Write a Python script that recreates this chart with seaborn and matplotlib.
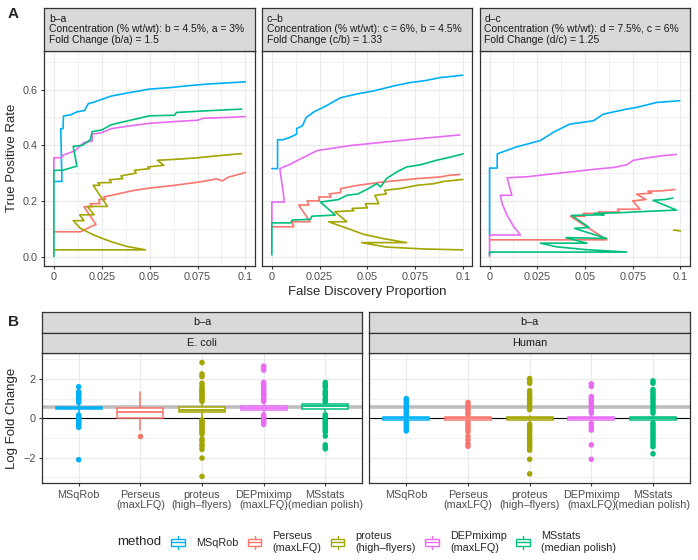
import matplotlib
matplotlib.use('Agg')
import numpy as np
import pandas as pd
import seaborn as sns
import matplotlib.pyplot as plt
from matplotlib.legend_handler import HandlerBase
from matplotlib.patches import Rectangle
from matplotlib.lines import Line2D

# methods and colours
methods = ['MSqRob', 'Perseus\n(maxLFQ)', 'proteus\n(high–flyers)', 'DEPmiximp\n(maxLFQ)', 'MSstats\n(median polish)']
colors = ['#00B0F6', '#F8766D', '#A3A500', '#E76BF3', '#00BF7D']

# panel A strip texts
comparisons = ['b–a', 'c–b', 'd–c']
concentrations = ['Concentration (% wt/wt): b = 4.5%, a = 3%',
                  'Concentration (% wt/wt): c = 6%, b = 4.5%',
                  'Concentration (% wt/wt): d = 7.5%, c = 6%']
fold_changes = ['Fold Change (b/a) = 1.5', 'Fold Change (c/b) = 1.33', 'Fold Change (d/c) = 1.25']
fc_values = [1.5, 1.33, 1.25]

# panel A curves: (false discovery proportion, true positive rate)
ba_msqrob = [(0, 0.27), (0.0042, 0.27), (0.0036, 0.46), (0.0048, 0.46), (0.005, 0.505), (0.009, 0.51),
             (0.012, 0.52), (0.016, 0.525), (0.018, 0.55), (0.021, 0.555), (0.025, 0.565), (0.03, 0.577),
             (0.04, 0.59), (0.05, 0.602), (0.06, 0.607), (0.07, 0.614), (0.08, 0.62), (0.09, 0.624), (0.1, 0.628)]
ba_perseus = [(0, 0.089), (0.014, 0.089), (0.02, 0.11), (0.022, 0.115), (0.0157, 0.179), (0.02, 0.179),
              (0.019, 0.19), (0.024, 0.19), (0.0235, 0.205), (0.027, 0.205), (0.026, 0.214), (0.03, 0.22),
              (0.042, 0.238), (0.05, 0.246), (0.063, 0.256), (0.076, 0.268), (0.085, 0.279), (0.088, 0.272),
              (0.091, 0.285), (0.1, 0.302)]
ba_proteus = [(0, 0.024), (0.0478, 0.024), (0.0383, 0.036), (0.0296, 0.054), (0.0209, 0.077), (0.0139, 0.101),
              (0.0101, 0.129), (0.0157, 0.129), (0.0135, 0.15), (0.021, 0.15), (0.0175, 0.18), (0.028, 0.18),
              (0.0205, 0.256), (0.024, 0.256), (0.023, 0.265), (0.03, 0.266), (0.029, 0.276), (0.036, 0.28),
              (0.035, 0.29), (0.043, 0.3), (0.042, 0.31), (0.05, 0.316), (0.049, 0.322), (0.0574, 0.328),
              (0.054, 0.346), (0.065, 0.35), (0.075, 0.355), (0.085, 0.362), (0.098, 0.37)]
ba_dep = [(0, 0.31), (0, 0.355), (0.004, 0.355), (0.005, 0.365), (0.011, 0.38), (0.0157, 0.41), (0.02, 0.415),
          (0.02, 0.44), (0.025, 0.445), (0.03, 0.46), (0.04, 0.47), (0.05, 0.479), (0.065, 0.486),
          (0.075, 0.49), (0.078, 0.497), (0.09, 0.5), (0.1, 0.503)]
ba_msstats = [(0, 0.0), (0, 0.31), (0.0045, 0.31), (0.012, 0.325), (0.0101, 0.396), (0.015, 0.4), (0.017, 0.41),
              (0.019, 0.42), (0.02, 0.449), (0.025, 0.455), (0.03, 0.474), (0.04, 0.49), (0.05, 0.506),
              (0.063, 0.508), (0.064, 0.518), (0.08, 0.524), (0.098, 0.53)]

cb_msqrob = [(0, 0.316), (0.003, 0.316), (0.003, 0.42), (0.006, 0.42), (0.01, 0.43), (0.013, 0.44),
             (0.013, 0.46), (0.016, 0.47), (0.018, 0.5), (0.022, 0.52), (0.028, 0.54), (0.036, 0.571),
             (0.045, 0.585), (0.053, 0.595), (0.065, 0.615), (0.072, 0.625), (0.08, 0.632), (0.088, 0.643),
             (0.1, 0.652)]
cb_perseus = [(0, 0.107), (0.0115, 0.107), (0.0105, 0.125), (0.02, 0.125), (0.0141, 0.185), (0.0193, 0.185),
              (0.0185, 0.2), (0.025, 0.2), (0.0245, 0.214), (0.031, 0.214), (0.03, 0.225), (0.036, 0.23),
              (0.036, 0.244), (0.045, 0.256), (0.058, 0.268), (0.076, 0.28), (0.088, 0.286), (0.093, 0.292),
              (0.0984, 0.295)]
cb_proteus = [(0.1, 0.024), (0.08, 0.027), (0.06, 0.034), (0.047, 0.05), (0.0706, 0.05), (0.058, 0.065),
              (0.048, 0.08), (0.04, 0.1), (0.0297, 0.125), (0.0393, 0.125), (0.033, 0.161), (0.043, 0.165),
              (0.042, 0.173), (0.05, 0.175), (0.049, 0.19), (0.056, 0.19), (0.054, 0.22), (0.06, 0.225),
              (0.059, 0.238), (0.068, 0.245), (0.076, 0.256), (0.085, 0.262), (0.09, 0.27), (0.1, 0.277)]
cb_dep = [(0, 0.125), (0, 0.196), (0.0066, 0.196), (0.0042, 0.316), (0.009, 0.33), (0.015, 0.351),
          (0.0237, 0.381), (0.041, 0.399), (0.0585, 0.411), (0.0758, 0.423), (0.0984, 0.437)]
cb_msstats = [(0, 0.006), (0, 0.121), (0.01, 0.121), (0.0106, 0.131), (0.0202, 0.134), (0.021, 0.145),
              (0.0332, 0.149), (0.0254, 0.196), (0.03, 0.2), (0.035, 0.205), (0.0393, 0.22), (0.045, 0.225),
              (0.0497, 0.241), (0.055, 0.262), (0.057, 0.25), (0.06, 0.28), (0.0654, 0.304), (0.0706, 0.322),
              (0.078, 0.33), (0.0862, 0.346), (0.092, 0.355), (0.1002, 0.369)]

dc_msqrob = [(0, 0.0775), (0, 0.318), (0.004, 0.318), (0.004, 0.369), (0.0136, 0.393), (0.0266, 0.417),
             (0.0335, 0.447), (0.042, 0.476), (0.0544, 0.488), (0.0596, 0.512), (0.0718, 0.53),
             (0.077, 0.536), (0.0875, 0.554), (0.0996, 0.56)]
dc_perseus = [(0, 0.06), (0.0614, 0.06), (0.0423, 0.145), (0.05, 0.145), (0.049, 0.155), (0.058, 0.155),
              (0.057, 0.16), (0.068, 0.16), (0.067, 0.17), (0.0788, 0.17), (0.075, 0.2), (0.082, 0.205),
              (0.077, 0.224), (0.085, 0.228), (0.083, 0.235), (0.09, 0.236), (0.097, 0.241)]
dc_proteus = [(0.0965, 0.095), (0.1, 0.092)]
dc_dep = [(0, 0.0), (0, 0.0775), (0.0162, 0.0775), (0.0127, 0.107), (0.0092, 0.148), (0.0066, 0.19),
          (0.0057, 0.22), (0.0117, 0.22), (0.0092, 0.283), (0.02, 0.287), (0.03, 0.295), (0.042, 0.304),
          (0.058, 0.316), (0.065, 0.32), (0.072, 0.33), (0.075, 0.345), (0.08, 0.352), (0.09, 0.362),
          (0.0979, 0.367)]
dc_msstats = [(0, 0.006), (0, 0.016), (0.0718, 0.016), (0.05, 0.025), (0.035, 0.035), (0.0266, 0.048),
              (0.051, 0.048), (0.04, 0.068), (0.0614, 0.065), (0.0445, 0.101), (0.052, 0.105), (0.043, 0.148),
              (0.06, 0.15), (0.055, 0.155), (0.07, 0.158), (0.075, 0.16), (0.0979, 0.167), (0.0857, 0.202),
              (0.092, 0.205), (0.096, 0.21)]

# panel B box statistics (log fold change)
species = ['E. coli', 'Human']
ecoli_q1 = [0.47, 0.0, 0.30, 0.40, 0.45]
ecoli_med = [0.53, 0.34, 0.44, 0.50, 0.60]
ecoli_q3 = [0.58, 0.51, 0.58, 0.61, 0.72]
ecoli_lo = [0.25, -0.6, 0.0, 0.25, 0.3]
ecoli_hi = [0.78, 1.32, 0.8, 0.82, 0.9]
human_q1 = [-0.07, -0.07, -0.07, -0.07, -0.07]
human_med = [0.0, 0.0, 0.0, 0.0, 0.0]
human_q3 = [0.07, 0.07, 0.07, 0.07, 0.07]
human_lo = [-0.12, -0.12, -0.14, -0.12, -0.12]
human_hi = [0.12, 0.12, 0.14, 0.12, 0.12]

# outlying proteins
ecoli_msqrob_out = [1.6, 1.35, 1.28, 1.2, 1.12, 1.04, 0.96, 0.88, 0.8, 0.17, 0.1, 0.02, -0.06, -0.14,
                    -0.22, -0.3, -0.38, -0.46, -2.1]
ecoli_perseus_out = [-0.9]
ecoli_proteus_out = [2.83, 2.25, 2.12, 1.78, 1.65, 1.5, 1.42, 1.34, 1.26, 1.18, 1.1, 1.02, 0.94, 0.86,
                     -0.08, -0.16, -0.24, -0.32, -0.4, -0.48, -0.56, -0.64, -0.72, -0.8, -1.05, -1.15,
                     -1.3, -1.42, -1.58, -2.02, -2.95]
ecoli_dep_out = [2.65, 2.55, 2.45, 1.82, 1.74, 1.66, 1.58, 1.5, 1.42, 1.34, 1.26, 1.18, 1.1, 1.02, 0.94,
                 0.86, 0.17, 0.09, 0.01, -0.07, -0.15, -0.23, -0.31]
ecoli_msstats_out = [1.82, 1.74, 1.66, 1.58, 1.4, 1.32, 1.24, 1.16, 1.0, 0.92, 0.84, 0.18, 0.1, 0.02,
                     -0.06, -0.14, -0.22, -0.3, -0.38, -0.46, -0.54, -0.62, -0.7, -0.9, -1.35, -1.45, -1.55]
human_msqrob_out = [1.0, 0.88, 0.76, 0.64, 0.52, 0.4, 0.28, 0.16, -0.16, -0.28, -0.4, -0.52, -0.64]
human_perseus_out = [0.8, 0.68, 0.56, 0.44, 0.32, 0.2, -0.2, -0.32, -0.44, -0.56, -0.68, -0.92, -1.1,
                     -1.3, -1.42]
human_proteus_out = [2.02, 1.9, 1.78, 1.4, 1.28, 1.16, 1.04, 0.92, 0.8, 0.68, 0.56, 0.44, -0.3, -0.42,
                     -0.54, -0.66, -0.78, -0.9, -1.02, -1.14, -1.26, -1.38, -1.5, -1.62, -2.08, -2.82]
human_dep_out = [1.75, 1.62, 1.1, 0.98, 0.86, 0.74, 0.62, 0.5, 0.38, 0.26, -0.26, -0.38, -0.5, -0.6,
                 -1.35, -2.08]
human_msstats_out = [1.9, 1.78, 1.46, 1.34, 1.22, 1.1, 0.98, 0.86, 0.74, 0.62, 0.5, 0.38, 0.26, -0.24,
                     -0.36, -0.48, -0.6, -0.72, -0.84, -0.96, -1.08, -1.2, -1.32, -1.44, -1.8]

# ---- tables ----
curves = {'b–a': [ba_msqrob, ba_perseus, ba_proteus, ba_dep, ba_msstats],
          'c–b': [cb_msqrob, cb_perseus, cb_proteus, cb_dep, cb_msstats],
          'd–c': [dc_msqrob, dc_perseus, dc_proteus, dc_dep, dc_msstats]}
rows = []
for comp in comparisons:
    for m, pts in zip(methods, curves[comp]):
        for fdp, tpr in pts:
            rows.append((comp, m, fdp, tpr))
roc = pd.DataFrame(rows, columns=['comparison', 'method', 'fdp', 'tpr'])

outliers = {'E. coli': [ecoli_msqrob_out, ecoli_perseus_out, ecoli_proteus_out, ecoli_dep_out, ecoli_msstats_out],
            'Human': [human_msqrob_out, human_perseus_out, human_proteus_out, human_dep_out, human_msstats_out]}
rows = []
for sp in species:
    for m, vals in zip(methods, outliers[sp]):
        for v in vals:
            rows.append((sp, m, v))
out_df = pd.DataFrame(rows, columns=['species', 'method', 'lfc'])
box_stats = {'E. coli': (ecoli_q1, ecoli_med, ecoli_q3, ecoli_lo, ecoli_hi),
             'Human': (human_q1, human_med, human_q3, human_lo, human_hi)}

# ---- style ----
sns.set_style('white')
plt.rcParams['font.family'] = ['Liberation Sans', 'DejaVu Sans']
GRID = '#EBEBEB'
DARK = '#333333'
TICK = '#4D4D4D'
STRIP = '#D9D9D9'
W, H = 698, 560
fig = plt.figure(figsize=(W / 100, H / 100), dpi=100)


def px_box(l, t, r, b):
    return [l / W, 1 - b / H, (r - l) / W, (b - t) / H]


def style_panel(ax):
    for s in ax.spines.values():
        s.set_visible(True)
        s.set_color(DARK)
        s.set_linewidth(0.9)
    ax.set_axisbelow(True)
    ax.grid(True, which='major', color=GRID, lw=0.9)
    ax.grid(True, which='minor', color=GRID, lw=0.5)
    ax.tick_params(which='major', length=2.5, width=0.8, color=DARK, labelsize=7.8,
                   labelcolor=TICK, pad=2.0, direction='out', bottom=True, left=True)
    ax.tick_params(which='minor', length=0)
    ax.set_xlabel('')
    ax.set_ylabel('')


def strip(l, t, r, b, text, ha='center'):
    sa = fig.add_axes(px_box(l, t, r, b))
    sa.set_facecolor(STRIP)
    sa.set_xticks([])
    sa.set_yticks([])
    for s in sa.spines.values():
        s.set_visible(True)
        s.set_color(DARK)
        s.set_linewidth(0.9)
    if ha == 'left':
        sa.text(4.5 / (r - l), 0.5, text, ha='left', va='center', fontsize=7.5,
                color='#1A1A1A', linespacing=1.1, transform=sa.transAxes)
    else:
        sa.text(0.5, 0.5, text, ha='center', va='center', fontsize=7.8,
                color='#1A1A1A', transform=sa.transAxes)
    return sa


# ---- panel A ----
top_left = [44.3, 262.3, 480.0]
top_right = [255.0, 472.3, 690.0]
for i, comp in enumerate(comparisons):
    ax = fig.add_axes(px_box(top_left[i], 50.7, top_right[i], 265.7))
    sub = roc[roc.comparison == comp]
    sns.lineplot(data=sub, x='fdp', y='tpr', hue='method', hue_order=methods, palette=colors,
                 sort=False, estimator=None, legend=False, linewidth=1.2, ax=ax)
    ax.set_xlim(-0.005, 0.105)
    ax.set_ylim(-0.033, 0.74)
    ax.set_xticks([0, 0.025, 0.05, 0.075, 0.1])
    ax.set_xticklabels(['0', '0.025', '0.05', '0.075', '0.1'])
    ax.set_xticks([0.0125, 0.0375, 0.0625, 0.0875], minor=True)
    ax.set_yticks([0, 0.2, 0.4, 0.6])
    ax.set_yticks([0.1, 0.3, 0.5, 0.7], minor=True)
    style_panel(ax)
    if i == 0:
        ax.set_yticklabels(['0.0', '0.2', '0.4', '0.6'])
    else:
        ax.set_yticklabels([])
        ax.tick_params(which='major', left=False)
    strip(top_left[i], 8.3, top_right[i], 50.7,
          comp + '\n' + concentrations[i] + '\n' + fold_changes[i], ha='left')

fig.text(367.3 / W, 1 - 291.5 / H, 'False Discovery Proportion', ha='center', va='center', fontsize=9.5)
fig.text(12.5 / W, 1 - 158.2 / H, 'True Positive Rate', ha='center', va='center', rotation=90, fontsize=9.5)

# ---- panel B ----
bot_left = [41.7, 369.3]
bot_right = [362.3, 690.0]
for j, sp in enumerate(species):
    ax = fig.add_axes(px_box(bot_left[j], 353.3, bot_right[j], 483.3))
    ax.axhline(np.log2(fc_values[0]), color='#BEBEBE', lw=2.6, zorder=1.2)
    ax.axhline(0, color='black', lw=0.8, zorder=1.3)
    sub = out_df[out_df.species == sp]
    sns.stripplot(data=sub, x='method', y='lfc', hue='method', order=methods, hue_order=methods,
                  palette=colors, jitter=False, size=4.0, linewidth=0, legend=False, ax=ax, zorder=3)
    q1, med, q3, lo, hi = box_stats[sp]
    for k, c in enumerate(colors):
        st = [dict(med=med[k], q1=q1[k], q3=q3[k], whislo=lo[k], whishi=hi[k], fliers=[])]
        ax.bxp(st, positions=[k], widths=0.75, patch_artist=True, showfliers=False, showcaps=False,
               manage_ticks=False,
               boxprops=dict(facecolor='white', edgecolor=c, linewidth=1.1, zorder=2.5),
               medianprops=dict(color=c, linewidth=1.3, zorder=2.6),
               whiskerprops=dict(color=c, linewidth=1.1, zorder=2.4))
    ax.set_xlim(-0.6, 4.6)
    ax.set_ylim(-3.3, 3.3)
    ax.set_xticks(range(5))
    ax.set_xticklabels(methods)
    ax.set_yticks([-2, 0, 2])
    ax.set_yticks([-3, -1, 1, 3], minor=True)
    style_panel(ax)
    ax.grid(False, which='minor', axis='x')
    if j == 0:
        ax.set_yticklabels(['−2', '0', '2'])
    else:
        ax.set_yticklabels([])
        ax.tick_params(which='major', left=False)
    for lab in ax.get_xticklabels():
        lab.set_linespacing(1.05)
    strip(bot_left[j], 311.7, bot_right[j], 332.7, comparisons[0])
    strip(bot_left[j], 333.3, bot_right[j], 353.3, sp)

fig.text(12.5 / W, 1 - 418.3 / H, 'Log Fold Change', ha='center', va='center', rotation=90, fontsize=9.5)

# panel tags
fig.text(8 / W, 1 - 14 / H, 'A', ha='left', va='center', fontsize=11, fontweight='bold')
fig.text(8 / W, 1 - 322.5 / H, 'B', ha='left', va='center', fontsize=11, fontweight='bold')


# ---- legend ----
class BoxKey(HandlerBase):
    def create_artists(self, legend, orig_handle, xdescent, ydescent, width, height, fontsize, trans):
        c = orig_handle.get_color()
        x0, y0 = -xdescent, -ydescent
        cx = x0 + width / 2
        arts = [Line2D([cx, cx], [y0, y0 + 0.25 * height], color=c, lw=1.0),
                Line2D([cx, cx], [y0 + 0.75 * height, y0 + height], color=c, lw=1.0),
                Rectangle((x0 + 0.08 * width, y0 + 0.25 * height), 0.84 * width, 0.5 * height,
                          facecolor='white', edgecolor=c, lw=1.0),
                Line2D([x0 + 0.08 * width, x0 + 0.92 * width], [y0 + 0.5 * height] * 2, color=c, lw=1.0)]
        for a in arts:
            a.set_transform(trans)
        return arts


handles = [Line2D([], [], color=c) for c in colors]
fig.legend(handles, methods, loc='center left', bbox_to_anchor=(170 / W, 1 - 542 / H), ncol=5,
           frameon=False, fontsize=7.8, handlelength=1.5, handleheight=1.5, handletextpad=0.9,
           columnspacing=0.75, borderpad=0, borderaxespad=0, handler_map={Line2D: BoxKey()})
fig.text(117.5 / W, 1 - 542 / H, 'method', ha='left', va='center', fontsize=9.5)

fig.savefig('out.png', dpi=100)
